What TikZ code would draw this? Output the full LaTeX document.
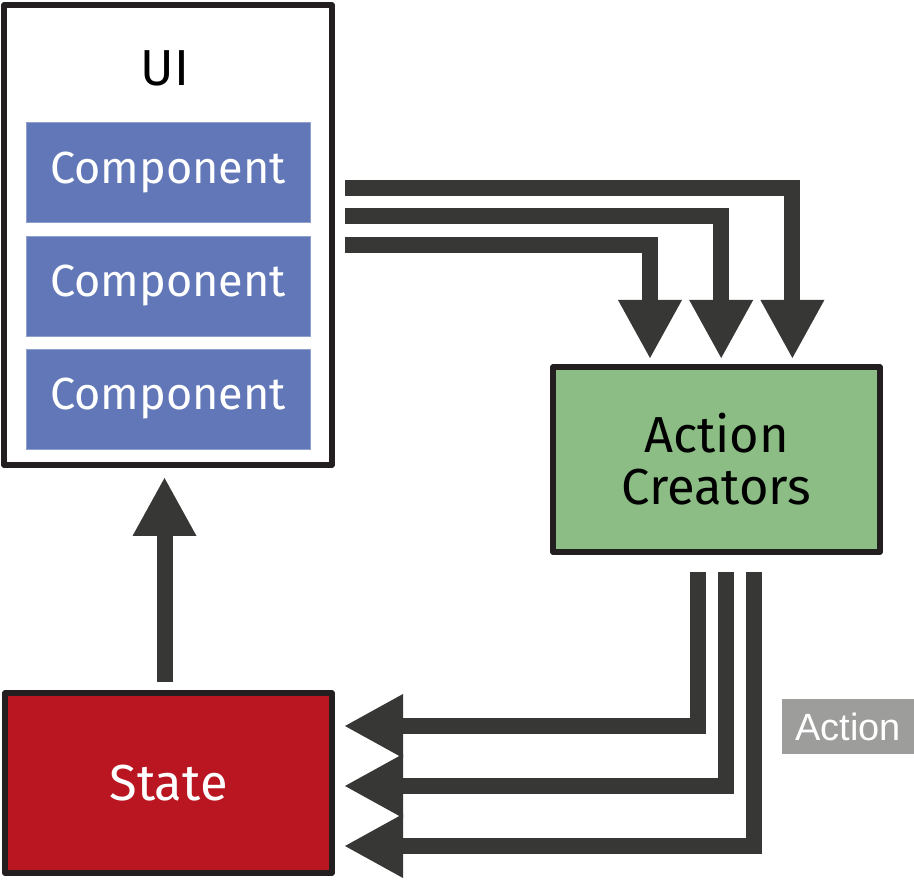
\documentclass[tikz,border=0pt]{standalone}
\usepackage{fontspec}
\newfontfamily\handfont{Fira Sans}
\newfontfamily\labelfont{Liberation Sans}
\usetikzlibrary{arrows.meta}

\begin{document}
\begin{tikzpicture}[
    box/.style={draw=borderblack, line width=4pt, line join=round, inner sep=0pt, outer sep=0pt},
    compbox/.style={fill=compblue, draw=compblue!70!white, line width=0.6pt, minimum width=7.1cm, minimum height=2.5cm, inner sep=0pt, outer sep=0pt, text=white, font=\handfont\fontsize{32}{36}\selectfont},
    flow/.style={draw=flowgray, line width=0.4cm, line join=miter, line cap=butt,
      -{Triangle[width=1.6cm, length=1.45cm, line width=0pt]}}
  ]

% Colors
\definecolor{borderblack}{RGB}{35,31,32}
\definecolor{compblue}{RGB}{97,119,184}
\definecolor{creatorgreen}{RGB}{139,189,132}
\definecolor{statered}{RGB}{186,22,34}
\definecolor{flowgray}{RGB}{55,55,53}
\definecolor{actiongray}{RGB}{157,157,156}

\useasboundingbox (0,0) rectangle (22.85,22.025);

% UI with its components
\node[box, fill=white, minimum width=8.2cm, minimum height=11.5cm] (ui) at (4.2,16.15) {};
\node[font=\handfont\fontsize{36}{40}\selectfont] (uilabel) at (4.125,20.325) {UI};
\node[compbox] (comp1) at (4.2,17.7125) {Component};
\node[compbox] (comp2) at (4.2,14.875) {Component};
\node[compbox] (comp3) at (4.2,12.05) {Component};

% Action creators
\node[box, fill=creatorgreen, minimum width=8.175cm, minimum height=4.625cm, align=center,
      font=\handfont\fontsize{36}{37}\selectfont] (creators) at (17.9125,10.5375) {Action\\Creators};

% State
\node[box, fill=statered, minimum width=8.175cm, minimum height=4.5cm, text=white,
      font=\handfont\fontsize{36}{40}\selectfont] (state) at (4.2125,2.45) {State};

% Action label
\node[fill=actiongray, minimum width=3.3cm, minimum height=1.375cm, text=white, inner sep=0pt,
      font=\labelfont\fontsize{27}{30}\selectfont] (action) at (21.2,3.8625) {Action};

% UI -> action creators
\foreach \i in {0,1,2} {
  \coordinate (uiout\i) at (8.625,{17.325-0.7125*\i});
  \draw[flow, shorten >=0.225cm] (uiout\i) -| ([xshift={1.8975cm-1.78cm*\i}]creators.north);
}

% Action creators -> state
\foreach \i in {0,1,2} {
  \coordinate (actout\i) at ([xshift={-0.475cm+0.7cm*\i}, yshift=-0.5cm]creators.south);
  \draw[flow, shorten >=0.325cm] (actout\i) |- ([yshift={1.425cm-1.5cm*\i}]state.east);
}

% State -> UI
\draw[flow, shorten <=0.275cm, shorten >=0.325cm] ([xshift=-0.1cm]state.north) -- ([xshift=-0.1cm]state.north |- ui.south);
\end{tikzpicture}
\end{document}
